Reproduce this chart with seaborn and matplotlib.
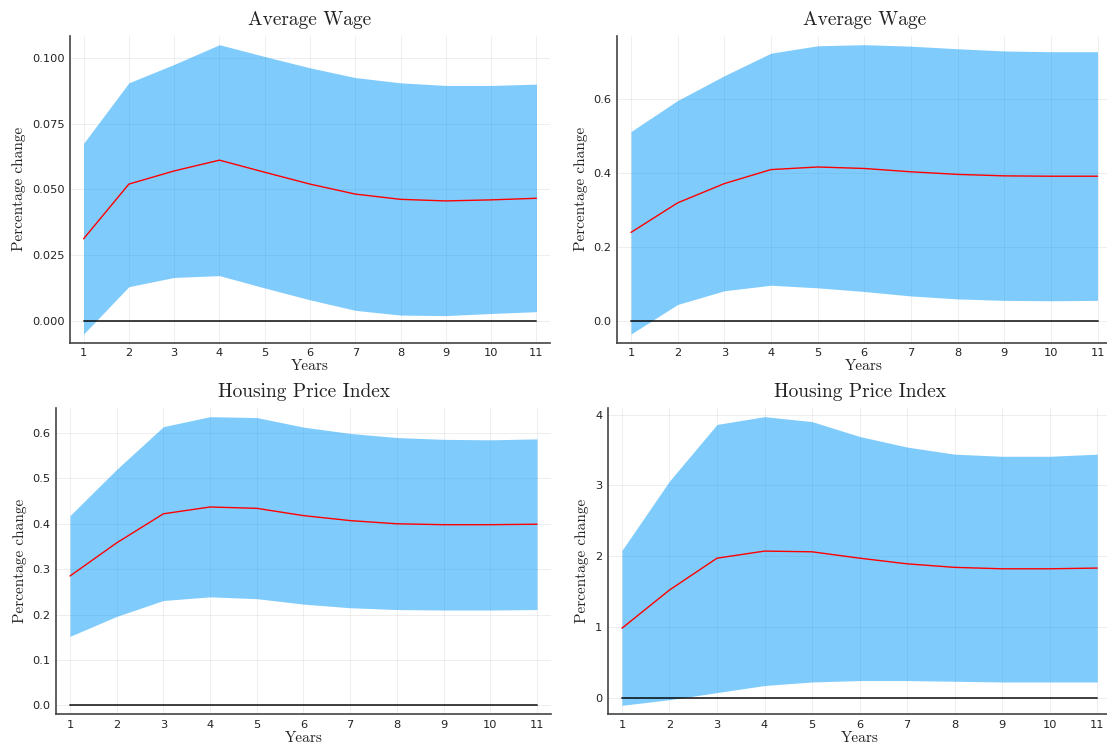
import numpy as np
import pandas as pd
import matplotlib
matplotlib.use("Agg")
import matplotlib.pyplot as plt
import seaborn as sns

sns.set_style("white")
plt.rcParams["font.family"] = ["DejaVu Sans"]

years = list(range(1, 12))

# Average wage, left specification
wage_a_mid = [0.0312, 0.0520, 0.0570, 0.0611, 0.0565, 0.0520, 0.0482, 0.0462, 0.0456, 0.0460, 0.0466]
wage_a_hi = [0.0675, 0.0905, 0.0975, 0.1050, 0.1005, 0.0962, 0.0925, 0.0905, 0.0895, 0.0895, 0.0900]
wage_a_lo = [-0.0050, 0.0130, 0.0165, 0.0172, 0.0125, 0.0080, 0.0040, 0.0022, 0.0020, 0.0028, 0.0035]

# Average wage, right specification
wage_b_mid = [0.240, 0.320, 0.372, 0.410, 0.417, 0.413, 0.404, 0.397, 0.393, 0.392, 0.392]
wage_b_hi = [0.513, 0.597, 0.664, 0.725, 0.745, 0.748, 0.744, 0.737, 0.731, 0.729, 0.729]
wage_b_lo = [-0.035, 0.045, 0.082, 0.097, 0.090, 0.080, 0.068, 0.060, 0.056, 0.055, 0.056]

# Housing price index, left specification
hpi_a_mid = [0.285, 0.358, 0.422, 0.437, 0.434, 0.418, 0.407, 0.400, 0.398, 0.398, 0.399]
hpi_a_hi = [0.418, 0.520, 0.614, 0.636, 0.634, 0.613, 0.599, 0.590, 0.586, 0.585, 0.587]
hpi_a_lo = [0.152, 0.196, 0.231, 0.239, 0.235, 0.223, 0.215, 0.211, 0.210, 0.210, 0.211]

# Housing price index, right specification
hpi_b_mid = [0.98, 1.52, 1.97, 2.07, 2.06, 1.97, 1.89, 1.84, 1.82, 1.82, 1.83]
hpi_b_hi = [2.08, 3.06, 3.86, 3.97, 3.90, 3.69, 3.54, 3.44, 3.41, 3.41, 3.44]
hpi_b_lo = [-0.11, -0.03, 0.07, 0.17, 0.22, 0.24, 0.24, 0.23, 0.22, 0.22, 0.22]

titles = ["Average Wage", "Average Wage", "Housing Price Index", "Housing Price Index"]
yticks = [
    [0.000, 0.025, 0.050, 0.075, 0.100],
    [0.0, 0.2, 0.4, 0.6],
    [0.0, 0.1, 0.2, 0.3, 0.4, 0.5, 0.6],
    [0, 1, 2, 3, 4],
]
yfmt = ["{:.3f}", "{:.1f}", "{:.1f}", "{:.0f}"]
panels = [
    (wage_a_mid, wage_a_lo, wage_a_hi),
    (wage_b_mid, wage_b_lo, wage_b_hi),
    (hpi_a_mid, hpi_a_lo, hpi_a_hi),
    (hpi_b_mid, hpi_b_lo, hpi_b_hi),
]

W, H = 1107, 744
# axes boxes in pixels: left, right, top, bottom
boxes = [
    (70, 550, 36, 342.7),
    (617, 1111.5, 36, 342.7),
    (56, 551, 408, 714),
    (607.7, 1111.5, 408, 714),
]

fig = plt.figure(figsize=(W / 100, H / 100), dpi=100)
serif = "cmr10"
band_color = "#009AFA"
spine_color = "#444444"

for (mid, lo, hi), title, ticks, fmt, (l, r, t, b) in zip(panels, titles, yticks, yfmt, boxes):
    ax = fig.add_axes([l / W, 1 - b / H, (r - l) / W, (b - t) / H])
    df = pd.DataFrame({"year": years, "mid": mid, "lo": lo, "hi": hi})
    ax.fill_between(df["year"], df["lo"], df["hi"], color=band_color, alpha=0.5,
                    linewidth=0, zorder=2)
    sns.lineplot(data=df, x="year", y="mid", color="red", linewidth=1.0, ax=ax, zorder=4)
    ax.plot([years[0], years[-1]], [0, 0], color="black", alpha=0.75, linewidth=1.4, zorder=3)
    ax.margins(x=0.03, y=0.03)

    ax.set_xticks(years)
    ax.set_xticklabels([str(v) for v in years])
    ax.set_yticks(ticks)
    ax.set_yticklabels([fmt.format(v) for v in ticks])
    ax.tick_params(direction="in", length=4, width=1.0, color=spine_color,
                   labelsize=8.2, labelcolor="#222222", pad=4)
    ax.grid(True, color="black", alpha=0.08, linewidth=0.6, zorder=0)
    ax.set_axisbelow(True)
    for side in ("top", "right"):
        ax.spines[side].set_visible(False)
    for side in ("left", "bottom"):
        ax.spines[side].set_color(spine_color)
        ax.spines[side].set_linewidth(1.2)

    ax.set_title(title, family=serif, fontsize=14, color="#222222", pad=8)
    ax.set_xlabel("Years", family=serif, fontsize=11, color="#222222", labelpad=1)
    ax.set_ylabel("Percentage change", family=serif, fontsize=11, color="#222222", labelpad=4)

fig.savefig("out.png", dpi=100)
